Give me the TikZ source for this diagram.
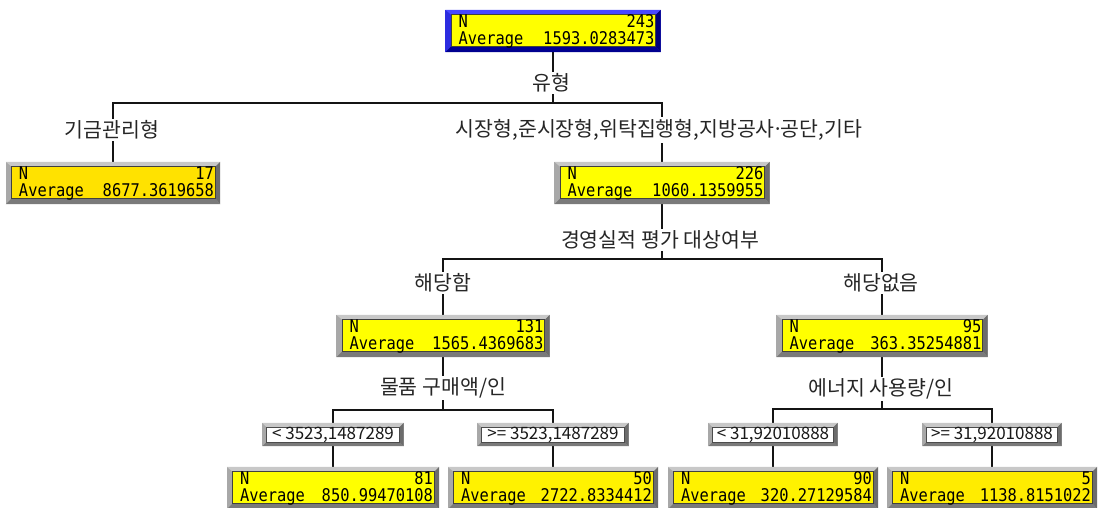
\documentclass[tikz,border=0pt]{standalone}
\usepackage{fontspec}
\newfontfamily\kr{Noto Sans CJK KR}
\newfontfamily\mono[FakeStretch=0.88]{DejaVu Sans Mono}
\usetikzlibrary{calc,backgrounds}
\definecolor{gl}{HTML}{C8C8C8}
\definecolor{gm}{HTML}{A8A8A8}
\definecolor{gd}{HTML}{6C6C6C}
\definecolor{gb}{HTML}{7A7A7A}
\definecolor{bl}{HTML}{4848FF}
\definecolor{bm}{HTML}{2C2CE0}
\definecolor{bd}{HTML}{000078}
\definecolor{bb}{HTML}{000090}
\definecolor{y1}{HTML}{FFFF00}
\definecolor{y2}{HTML}{FFE200}
\definecolor{y3}{HTML}{FFF200}
\definecolor{y4}{HTML}{FFEC00}
\newcommand\bev[6]{%
  \fill[#3] (#1.south west) rectangle (#1.north east);
  \fill[#2] (#1.north west) -- (#1.north east) -- ([shift={(-5,5)}]#1.north east) -- ([shift={(6,5)}]#1.north west) -- cycle;
  \fill[#4] (#1.north east) -- (#1.south east) -- ([shift={(-5,-6)}]#1.south east) -- ([shift={(-5,5)}]#1.north east) -- cycle;
  \fill[#5] (#1.south west) -- (#1.south east) -- ([shift={(-5,-6)}]#1.south east) -- ([shift={(6,-6)}]#1.south west) -- cycle;
  \filldraw[fill=#6, draw=black!75, line width=0.7pt] ([shift={(6,5)}]#1.north west) rectangle ([shift={(-5,-6)}]#1.south east);
}
\newcommand\sbev[1]{%
  \fill[gm] (#1.south west) rectangle (#1.north east);
  \fill[gl] (#1.north west) -- (#1.north east) -- ([shift={(-4,4)}]#1.north east) -- ([shift={(4,4)}]#1.north west) -- cycle;
  \fill[gd] (#1.north east) -- (#1.south east) -- ([shift={(-4,-4)}]#1.south east) -- ([shift={(-4,4)}]#1.north east) -- cycle;
  \fill[gb] (#1.south west) -- (#1.south east) -- ([shift={(-4,-4)}]#1.south east) -- ([shift={(4,-4)}]#1.south west) -- cycle;
  \filldraw[fill=white, draw=black!70, line width=0.6pt] ([shift={(4,4)}]#1.north west) rectangle ([shift={(-4,-4)}]#1.south east);
}
\newcommand\btext[3]{%
  \node[btxt, anchor=base west] (#1-n) at ([shift={(13,18)}]#1.north west) {N};
  \node[btxt, anchor=base east] (#1-c) at ([shift={(-6,18)}]#1.north east) {#2};
  \node[btxt, anchor=base west] (#1-a) at ([shift={(13,35)}]#1.north west) {Average};
  \node[btxt, anchor=base east] (#1-v) at ([shift={(-6,35)}]#1.north east) {#3};
}
\newcommand\mdot{\makebox[0.3em]{·}}
\begin{document}
\begin{tikzpicture}[x=1pt,y=-1pt,
  box/.style={inner sep=0, minimum height=42pt, draw=none},
  sbox/.style={inner sep=0, minimum height=23pt, draw=none},
  conn/.style={line width=2.6pt, draw=black!92},
  lab/.style={font=\kr\fontsize{20.5}{20.5}\selectfont, fill=white, inner sep=2pt, text=black!85},
  btxt/.style={font=\mono\fontsize{17.5}{17.5}\selectfont, inner sep=0, text=black},
  stxt/.style={font=\kr\fontsize{17}{17}\selectfont, inner sep=0, text=black!90}]
\useasboundingbox (0,0) rectangle (1098,507);
\clip (0,0) rectangle (1098,507);
% boxes
\node[box, minimum width=215pt] (root) at (553,31) {};
\node[box, minimum width=214pt] (b17) at (113,183) {};
\node[box, minimum width=215pt] (b226) at (662,183) {};
\node[box, minimum width=213pt] (b131) at (443,336) {};
\node[box, minimum width=211pt] (b95) at (882,336) {};
\node[sbox, minimum width=141pt] (s1) at (333,434.5) {};
\node[sbox, minimum width=151pt] (s2) at (553,434.5) {};
\node[sbox, minimum width=129pt] (s3) at (773,434.5) {};
\node[sbox, minimum width=139pt] (s4) at (992,434.5) {};
\node[box, minimum width=212pt] (l81) at (333,488) {};
\node[box, minimum width=210pt] (l50) at (553,488) {};
\node[box, minimum width=210pt] (l90) at (773,488) {};
\node[box, minimum width=210pt] (l5) at (992,488) {};
% labels
\node[lab] (lab1) at (551,83) {유형};
\node[lab] (lab2) at (112,130) {기금관리형};
\node[lab] (lab3) at (659,130) {시장형,준시장형,위탁집행형,지방공사\mdot 공단,기타};
\node[lab] (lab4) at (660,240) {경영실적 평가 대상여부};
\node[lab] (lab5) at (443,283) {해당함};
\node[lab] (lab6) at (881,283) {해당없음};
\node[lab] (lab7) at (443,388) {물품 구매액/인};
\node[lab] (lab8) at (881,389) {에너지 사용량/인};
\coordinate (j1) at (553,103);
\coordinate (j2) at (662,259);
\coordinate (j3) at (443,410);
\coordinate (j4) at (882,409);
% connectors
\begin{pgfonlayer}{background}
\fill[white] (0,0) rectangle (1098,507);
\draw[conn] (root.south) -- (j1);
\draw[conn] (b17.north) |- (j1) -| (b226.north);
\draw[conn] (b226.south) -- (j2);
\draw[conn] (b131.north) |- (j2) -| (b95.north);
\draw[conn] (b131.south) -- (j3);
\draw[conn] (l81.north) |- (j3) -| (l50.north);
\draw[conn] (b95.south) -- (j4);
\draw[conn] (l90.north) |- (j4) -| (l5.north);
\end{pgfonlayer}
% bevels
\bev{root}{bl}{bm}{bd}{bb}{y1}
\bev{b17}{gl}{gm}{gd}{gb}{y2}
\bev{b226}{gl}{gm}{gd}{gb}{y1}
\bev{b131}{gl}{gm}{gd}{gb}{y1}
\bev{b95}{gl}{gm}{gd}{gb}{y1}
\bev{l81}{gl}{gm}{gd}{gb}{y1}
\bev{l50}{gl}{gm}{gd}{gb}{y3}
\bev{l90}{gl}{gm}{gd}{gb}{y3}
\bev{l5}{gl}{gm}{gd}{gb}{y4}
\sbev{s1}\sbev{s2}\sbev{s3}\sbev{s4}
% split texts
\node[stxt] (s1t) at ([yshift=-0.5pt]s1.center) {< 3523,1487289};
\node[stxt] (s2t) at ([yshift=-0.5pt]s2.center) {>= 3523,1487289};
\node[stxt] (s3t) at ([yshift=-0.5pt]s3.center) {< 31,92010888};
\node[stxt] (s4t) at ([yshift=-0.5pt]s4.center) {>= 31,92010888};
% box texts
\btext{root}{243}{1593.0283473}
\btext{b17}{17}{8677.3619658}
\btext{b226}{226}{1060.1359955}
\btext{b131}{131}{1565.4369683}
\btext{b95}{95}{363.35254881}
\btext{l81}{81}{850.99470108}
\btext{l50}{50}{2722.8334412}
\btext{l90}{90}{320.27129584}
\btext{l5}{5}{1138.8151022}
\end{tikzpicture}
\end{document}
